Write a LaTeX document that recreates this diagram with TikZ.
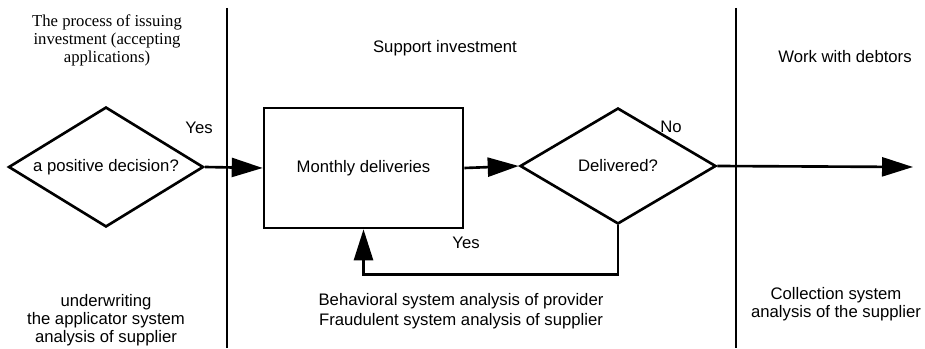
\documentclass[tikz,border=0pt]{standalone}
\usepackage{fontspec}
\setmainfont{Liberation Sans}
\newfontfamily\timesfont{Liberation Serif}
\usetikzlibrary{shapes.geometric}
\usetikzlibrary{arrows.meta, calc, positioning}

\begin{document}
\begin{tikzpicture}[x=0.02cm, y=-0.02cm, line width=1.5pt]
    \tikzset{
      my decision/.style n args={2}{
        draw, diamond, inner sep=0pt, anchor=center, aspect=1.65,
        minimum width=#1, minimum height=#2,
        font=\fontsize{9.5}{11.5}\selectfont
      },
      my process/.style={
        draw, rectangle, minimum width=3.98cm, minimum height=2.4cm,
        font=\fontsize{9.5}{11.5}\selectfont
      },
      my label/.style={
        align=center, inner sep=0pt, font=\fontsize{9.5}{10.2}\selectfont
      },
      my arrow/.style={
        -{Triangle[length=6.2mm, width=3.8mm]}
      },
    }
    \useasboundingbox (0,0) rectangle (925,348);

    % Swimlane borders
    \coordinate (lane1 top) at (227,8);
    \coordinate (lane1 bottom) at (227,348);
    \coordinate (lane2 top) at (736,8);
    \coordinate (lane2 bottom) at (736,348);
    \draw (lane1 top) -- (lane1 bottom);
    \draw (lane2 top) -- (lane2 bottom);

    % Lane titles
    \node (title1) [my label, font=\timesfont\fontsize{9.5}{10.2}\selectfont] at (107,40)
      {The process of issuing\\investment (accepting\\applications)};
    \node (title2) [my label] at (445,48) {Support investment};
    \node (title3) [my label] at (845,57) {Work with debtors};

    % Flow
    \node (decision) [my decision={3.9cm}{2.4cm}] at (106,167) {a positive decision?};
    \node (deliveries) [my process] at (363.5,168) {Monthly deliveries};
    \node (delivered) [my decision={3.92cm}{2.32cm}] at (618,166) {Delivered?};
    \coordinate (exit) at (913,167);
    \coordinate (loop right) at ($(delivered.south)+(0,49)$);
    \coordinate (loop left) at (loop right -| deliveries.south);

    \draw[my arrow] (decision.east) -- (deliveries.west);
    \draw[my arrow] (deliveries.east) -- (delivered.west);
    \draw[my arrow] (delivered.east) -- (exit);
    \draw[my arrow] (delivered.south) -- (loop right) -- (loop left) -- (deliveries.south);

    % Branch labels
    \node (yes1) [my label] at (199,128) {Yes};
    \node (no) [my label] at (671,127) {No};
    \node (yes2) [my label] at (466,243) {Yes};

    % Lane notes
    \node (note1) [my label] at (106,320)
      {underwriting\\the applicator system\\analysis of supplier};
    \node (note2) [my label, font=\fontsize{9.5}{11.3}\selectfont] at (461,311)
      {Behavioral system analysis of provider\\Fraudulent system analysis of supplier};
    \node (note3) [my label] at (836,304)
      {Collection system\\analysis of the supplier};
\end{tikzpicture}
\end{document}
